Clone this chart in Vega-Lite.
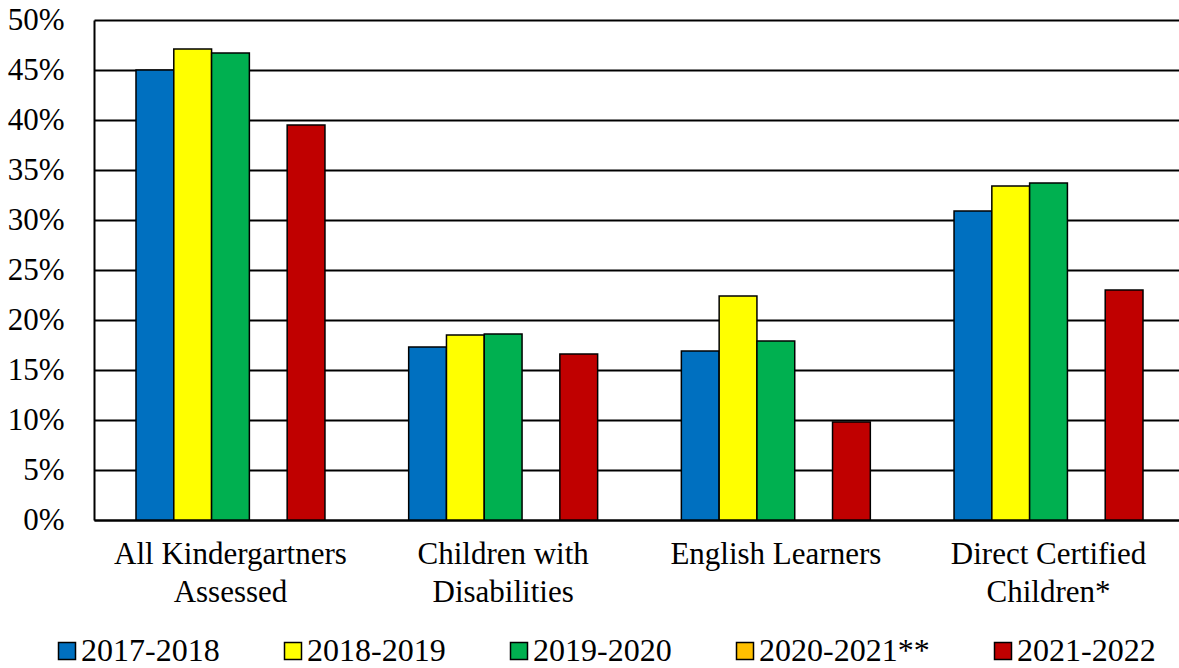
{
  "$schema": "https://vega.github.io/schema/vega-lite/v6.json",
  "width": 1085,
  "height": 500,
  "autosize": {"type": "none"},
  "padding": {"left": 94, "top": 20, "right": 0, "bottom": 148},
  "background": "white",
  "data": {
    "values": [
      {"group": "All Kindergartners Assessed", "year": "2017-2018", "value": 0.450},
      {"group": "All Kindergartners Assessed", "year": "2018-2019", "value": 0.471},
      {"group": "All Kindergartners Assessed", "year": "2019-2020", "value": 0.467},
      {"group": "All Kindergartners Assessed", "year": "2021-2022", "value": 0.395},
      {"group": "Children with Disabilities", "year": "2017-2018", "value": 0.173},
      {"group": "Children with Disabilities", "year": "2018-2019", "value": 0.185},
      {"group": "Children with Disabilities", "year": "2019-2020", "value": 0.186},
      {"group": "Children with Disabilities", "year": "2021-2022", "value": 0.166},
      {"group": "English Learners", "year": "2017-2018", "value": 0.169},
      {"group": "English Learners", "year": "2018-2019", "value": 0.224},
      {"group": "English Learners", "year": "2019-2020", "value": 0.179},
      {"group": "English Learners", "year": "2021-2022", "value": 0.098},
      {"group": "Direct Certified Children*", "year": "2017-2018", "value": 0.309},
      {"group": "Direct Certified Children*", "year": "2018-2019", "value": 0.334},
      {"group": "Direct Certified Children*", "year": "2019-2020", "value": 0.337},
      {"group": "Direct Certified Children*", "year": "2021-2022", "value": 0.230}
    ]
  },
  "mark": {"type": "bar", "stroke": "black", "strokeWidth": 1.5},
  "encoding": {
    "x": {
      "field": "group",
      "type": "nominal",
      "sort": ["All Kindergartners Assessed", "Children with Disabilities", "English Learners", "Direct Certified Children*"],
      "scale": {"paddingInner": 0.307, "paddingOuter": 0.154, "range": [0, 1091]},
      "axis": {
        "title": null,
        "labelAngle": 0,
        "labelFont": "Liberation Serif",
        "labelFontSize": 31,
        "labelColor": "black",
        "labelLineHeight": 38,
        "labelPadding": 19,
        "labelLimit": 0,
        "ticks": false,
        "domain": true,
        "domainColor": "black",
        "domainWidth": 2,
        "labelExpr": "datum.label == 'All Kindergartners Assessed' ? ['All Kindergartners', 'Assessed'] : datum.label == 'Children with Disabilities' ? ['Children with', 'Disabilities'] : datum.label == 'Direct Certified Children*' ? ['Direct Certified', 'Children*'] : datum.label"
      }
    },
    "xOffset": {
      "field": "year",
      "type": "nominal",
      "scale": {"domain": ["2017-2018", "2018-2019", "2019-2020", "2020-2021**", "2021-2022"], "paddingInner": 0, "paddingOuter": 0}
    },
    "y": {
      "field": "value",
      "type": "quantitative",
      "scale": {"domain": [0, 0.5], "nice": false},
      "axis": {
        "title": null,
        "format": ".0%",
        "values": [0, 0.05, 0.1, 0.15, 0.2, 0.25, 0.3, 0.35, 0.4, 0.45, 0.5],
        "labelFont": "Liberation Serif",
        "labelFontSize": 31,
        "labelColor": "black",
        "labelPadding": 30,
        "ticks": false,
        "domain": true,
        "domainColor": "black",
        "domainWidth": 2,
        "grid": true,
        "gridColor": "black",
        "gridWidth": 1.8,
        "gridOpacity": 1
      }
    },
    "color": {
      "field": "year",
      "type": "nominal",
      "scale": {
        "domain": ["2017-2018", "2018-2019", "2019-2020", "2020-2021**", "2021-2022"],
        "range": ["#0070C0", "#FFFF00", "#00B050", "#FFC000", "#C00000"]
      },
      "legend": {
        "title": null,
        "orient": "none",
        "direction": "horizontal",
        "columns": 5,
        "legendX": -43,
        "legendY": 615,
        "symbolType": "square",
        "symbolSize": 289,
        "symbolStrokeColor": "black",
        "symbolStrokeWidth": 1.5,
        "symbolOpacity": 1,
        "labelFont": "Liberation Serif",
        "labelFontSize": 32,
        "labelColor": "black",
        "labelOffset": -2,
        "columnPadding": 57,
        "labelLimit": 400
      }
    }
  },
  "config": {
    "view": {"stroke": null}
  }
}
